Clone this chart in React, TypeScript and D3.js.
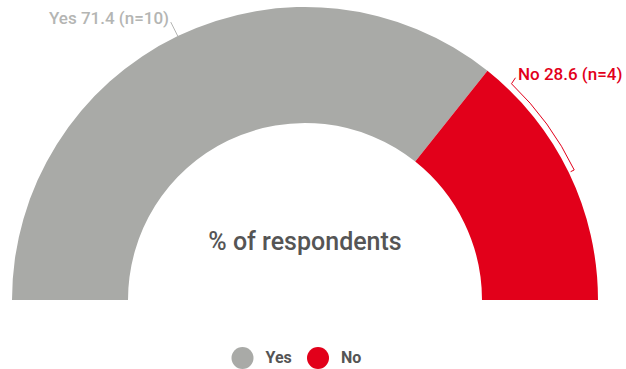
import React from "react";
import * as d3 from "d3";

const categories = ["Yes", "No"];
const values = [71.4, 28.6];
const counts = [10, 4];
const colors = ["#a9aaa7", "#e2001a"];
const labelColors = ["#b4b5b3", "#e2001a"];
const centerLabel = "% of respondents";

export default function App() {
  const W = 626, H = 369;
  const cx = 305, cy = 300, rOuter = 293, rInner = 177;
  const pie = d3.pie<number>().sort(null).startAngle(-Math.PI / 2).endAngle(Math.PI / 2);
  const arcs = pie(values);
  const arcGen = d3.arc<d3.PieArcDatum<number>>().innerRadius(rInner).outerRadius(rOuter);

  const yesMid = (arcs[0].startAngle + arcs[0].endAngle) / 2;
  const px = (a: number, r: number) => r * Math.sin(a);
  const py = (a: number, r: number) => -r * Math.cos(a);

  const noA0 = arcs[1].startAngle + 0.09;
  const noA1 = arcs[1].endAngle - 0.45;
  const rb = 299;
  const bracketArc = d3.path();
  bracketArc.moveTo(px(noA0, rb) + 4, py(noA0, rb) - 6);
  bracketArc.lineTo(px(noA0, rb), py(noA0, rb));
  bracketArc.arc(0, 0, rb, noA0 - Math.PI / 2, noA1 - Math.PI / 2, false);
  bracketArc.lineTo(px(noA1, rb - 4), py(noA1, rb - 4));

  return (
    <svg width={W} height={H} style={{ position: "absolute", left: 0, top: 0, fontFamily: "Roboto, sans-serif" }}>
      <g transform={`translate(${cx},${cy})`}>
        {arcs.map((a, i) => (
          <path key={categories[i]} d={arcGen(a) || ""} fill={colors[i]} />
        ))}
        <line x1={px(yesMid, rOuter)} y1={py(yesMid, rOuter)} x2={px(yesMid, rOuter) - 7} y2={py(yesMid, rOuter) - 14} stroke="#b4b5b3" strokeWidth={1} />
        <path d={bracketArc.toString()} fill="none" stroke={colors[1]} strokeWidth={1} />
      </g>
      <text x={169} y={24} textAnchor="end" fontSize={17} fontWeight={500} fill={labelColors[0]}>
        {`${categories[0]} ${values[0]} (n=${counts[0]})`}
      </text>
      <text x={518} y={80} fontSize={17} fontWeight={500} fill={labelColors[1]}>
        {`${categories[1]} ${values[1]} (n=${counts[1]})`}
      </text>
      <text x={cx} y={250} textAnchor="middle" fontSize={25} fontWeight={500} fill="#555">
        {centerLabel}
      </text>
      {categories.map((c, i) => {
        const lx = [242.5, 318][i];
        return (
          <g key={c}>
            <circle cx={lx} cy={358} r={11} fill={colors[i]} />
            <text x={lx + 23} y={363} fontSize={16} fontWeight={700} fill="#555">{c}</text>
          </g>
        );
      })}
    </svg>
  );
}
